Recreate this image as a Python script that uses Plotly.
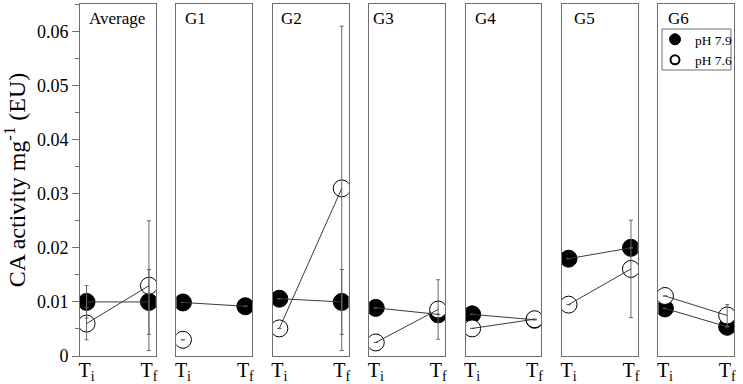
import plotly.graph_objects as go

# ---------------- data ----------------
groups = ["Average", "G1", "G2", "G3", "G4", "G5", "G6"]
time_labels = ["T<sub>i</sub>", "T<sub>f</sub>"]

ph79_ti = [0.0100, 0.0099, 0.0106, 0.0089, 0.0077, 0.0180, 0.0088]
ph79_tf = [0.0100, 0.0092, 0.0100, 0.0077, 0.0067, 0.0200, 0.0054]
ph76_ti = [0.0060, 0.0030, 0.0051, 0.0025, 0.0051, 0.0095, 0.0111]
ph76_tf = [0.0130, None, 0.0310, 0.0086, 0.0068, 0.0161, 0.0075]

ph79_ti_err = [0.003, 0, 0, 0, 0, 0, 0]
ph79_tf_err = [0.006, 0, 0.006, 0, 0, 0, 0]
ph76_ti_err = [0.003, 0, 0, 0, 0, 0, 0]
ph76_tf_err = [0.012, 0, 0.030, 0.0055, 0, 0.009, 0.002]

series_names = ["pH 7.9", "pH 7.6"]

# ---------------- layout constants ----------------
FONT = "Liberation Serif"
W, H = 743, 384
ML, MR, MT, MB = 80, 9, 4, 28
plot_w = W - ML - MR
plot_h = H - MT - MB
panel_w = 75.8
panel_step = 96.4
title_offsets_px = [7, 6.5, 6.5, 2, 7, 10, 7.5]
FRAME = "#6e6e6e"
LINE = "#3a3a3a"
ERR = "#666666"


def px_x(px):
    return (px - ML) / plot_w


def px_y(py):
    return (H - MB - py) / plot_h


fig = go.Figure()
x_pos = [0, 1]

for i, g in enumerate(groups):
    ax = "" if i == 0 else str(i + 1)
    xa, ya = "x" + ax, "y" + ax
    fig.add_trace(go.Scatter(
        x=x_pos, y=[ph79_ti[i], ph79_tf[i]], mode="markers", xaxis=xa, yaxis=ya,
        marker=dict(size=17, color="black", line=dict(color="black", width=1)),
        showlegend=False, hoverinfo="skip"))
    fig.add_trace(go.Scatter(
        x=x_pos, y=[ph76_ti[i], ph76_tf[i]], mode="markers", xaxis=xa, yaxis=ya,
        marker=dict(size=17, color="white", line=dict(color="black", width=1)),
        showlegend=False, hoverinfo="skip"))
    for vals, errs in ((
            [ph79_ti[i], ph79_tf[i]], [ph79_ti_err[i], ph79_tf_err[i]]),
            ([ph76_ti[i], ph76_tf[i]], [ph76_ti_err[i], ph76_tf_err[i]])):
        fig.add_trace(go.Scatter(
            x=x_pos, y=vals, mode="lines", xaxis=xa, yaxis=ya,
            line=dict(color=LINE, width=1),
            error_y=dict(type="data", array=errs, visible=True, color=ERR,
                         thickness=1, width=2),
            showlegend=False, hoverinfo="skip"))

fig.add_trace(go.Scatter(x=[None], y=[None], mode="markers", name=series_names[0],
                         xaxis="x7", yaxis="y7",
                         marker=dict(size=11, color="black", line=dict(color="black", width=1))))
fig.add_trace(go.Scatter(x=[None], y=[None], mode="markers", name=series_names[1],
                         xaxis="x7", yaxis="y7",
                         marker=dict(size=9, color="white", line=dict(color="black", width=2))))

layout = dict(
    width=W, height=H,
    margin=dict(l=ML, r=MR, t=MT, b=MB, autoexpand=False),
    paper_bgcolor="white", plot_bgcolor="white",
    font=dict(family=FONT, color="black"),
    showlegend=True,
    legend=dict(x=px_x(655), y=px_y(24),
                xanchor="left", yanchor="top",
                borderwidth=0, bgcolor="rgba(0,0,0,0)",
                font=dict(family=FONT, size=13.5), tracegroupgap=0,
                itemwidth=30),
    shapes=[dict(type="rect", xref="paper", yref="paper",
                 x0=px_x(662), x1=px_x(731), y0=px_y(29), y1=px_y(70),
                 line=dict(color=FRAME, width=1), fillcolor="white", layer="above")],
)

annotations = []
for i, g in enumerate(groups):
    ax = "" if i == 0 else str(i + 1)
    left = i * panel_step / plot_w
    right = left + panel_w / plot_w
    layout["xaxis" + ax] = dict(
        domain=[left, min(right, 1.0)], anchor="y" + ax,
        range=[-0.105, 1.11], tickvals=x_pos, ticktext=time_labels,
        ticks="", showgrid=False, zeroline=False,
        showline=True, mirror=True, linecolor=FRAME, linewidth=1,
        tickfont=dict(family=FONT, size=20, color="black"),
        ticklabelstandoff=-4,
        fixedrange=True)
    yax = dict(
        anchor="x" + ax, range=[0, 0.0651], showgrid=False, zeroline=False,
        showline=True, mirror=True, linecolor=FRAME, linewidth=1)
    if i == 0:
        yax.update(dict(
            dtick=0.01, tick0=0, ticks="outside", ticklen=7, tickcolor=FRAME,
            minor=dict(dtick=0.005, ticks="outside", ticklen=4, tickcolor=FRAME),
            tickfont=dict(family=FONT, size=18, color="black"),
            title=dict(text="CA activity mg<sup>-1</sup> (EU)",
                       font=dict(family=FONT, size=24, color="black"), standoff=12)))
    else:
        yax.update(dict(matches="y", showticklabels=False, ticks=""))
    layout["yaxis" + ax] = yax
    annotations.append(dict(
        text=g, xref=f"x{ax} domain", yref=f"y{ax} domain",
        x=title_offsets_px[i] / panel_w, y=(H - MB - 18) / plot_h,
        xanchor="left", yanchor="middle", showarrow=False,
        font=dict(family=FONT, size=17, color="black")))

layout["annotations"] = annotations
fig.update_layout(**layout)
fig.write_html("out.html", config={"displayModeBar": False},
               post_script="document.body.style.margin='0';")
